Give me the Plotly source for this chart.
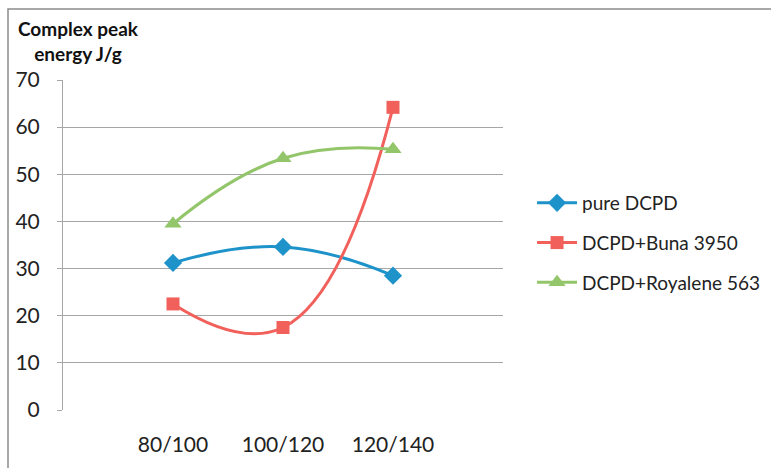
import plotly.graph_objects as go

categories = ["80/100", "100/120", "120/140"]
cat_pos = [1, 2, 3]
pure_dcpd = [31.2, 34.6, 28.5]
dcpd_buna = [22.5, 17.5, 64.2]
dcpd_royalene = [39.5, 53.4, 55.3]
y_ticks = [0, 10, 20, 30, 40, 50, 60, 70]

font_family = "Lato, 'Open Sans', sans-serif"

fig = go.Figure()
series = [
    ("pure DCPD", pure_dcpd, "#1E93CA", "diamond", 14),
    ("DCPD+Buna 3950", dcpd_buna, "#F1605A", "square", 13),
    ("DCPD+Royalene 563", dcpd_royalene, "#93C56A", "triangle-up", 15),
]
for name, vals, col, sym, sz in series:
    fig.add_trace(go.Scatter(
        x=cat_pos, y=vals, name=name, legendgroup=name,
        mode="lines+markers",
        line=dict(color=col, width=3, shape="spline", smoothing=1.3),
        marker=dict(symbol=sym, size=sz, color=col),
    ))

fig.update_layout(
    width=771, height=468,
    margin=dict(l=63, r=268, t=80, b=58, autoexpand=False),
    paper_bgcolor="white", plot_bgcolor="white",
    font=dict(family=font_family, size=19, color="#222222"),
    showlegend=True,
    legend=dict(x=1.066, y=0.506, xanchor="left", yanchor="middle",
                font=dict(size=19, color="#222222"), tracegroupgap=12,
                itemwidth=40, bgcolor="rgba(0,0,0,0)"),
    xaxis=dict(range=[0, 4], tickvals=cat_pos, ticktext=categories,
               showgrid=False, zeroline=False, showline=False, ticks="",
               automargin=False,
               ticklabelstandoff=20, tickfont=dict(size=21, color="#222222"),
               fixedrange=True),
    yaxis=dict(range=[0, 70], tickvals=y_ticks, showgrid=True,
               gridcolor="#A6A6A6", gridwidth=1, zeroline=False,
               showline=True, linecolor="#A6A6A6", linewidth=1,
               ticks="outside", ticklen=5, tickcolor="#A6A6A6",
               automargin=False,
               ticklabelstandoff=13, tickfont=dict(size=21, color="#222222"),
               fixedrange=True),
    annotations=[
        dict(text="<b>Complex peak</b><br><b>energy J/g</b>", x=0.036, y=1.197,
             xref="paper", yref="paper", xanchor="center", yanchor="top",
             showarrow=False, align="center",
             font=dict(family=font_family, size=19, color="#111111")),
    ],
    shapes=[
        dict(type="rect", xref="paper", yref="paper",
             x0=-0.125, x1=1.65, y0=-0.2, y1=1.215,
             line=dict(color="#8C8C8C", width=1.5), fillcolor="rgba(0,0,0,0)",
             layer="below"),
    ],
)

fig.write_html("out.html", config={"displayModeBar": False},
               post_script="document.body.style.margin='0px';document.body.style.padding='0px';")
